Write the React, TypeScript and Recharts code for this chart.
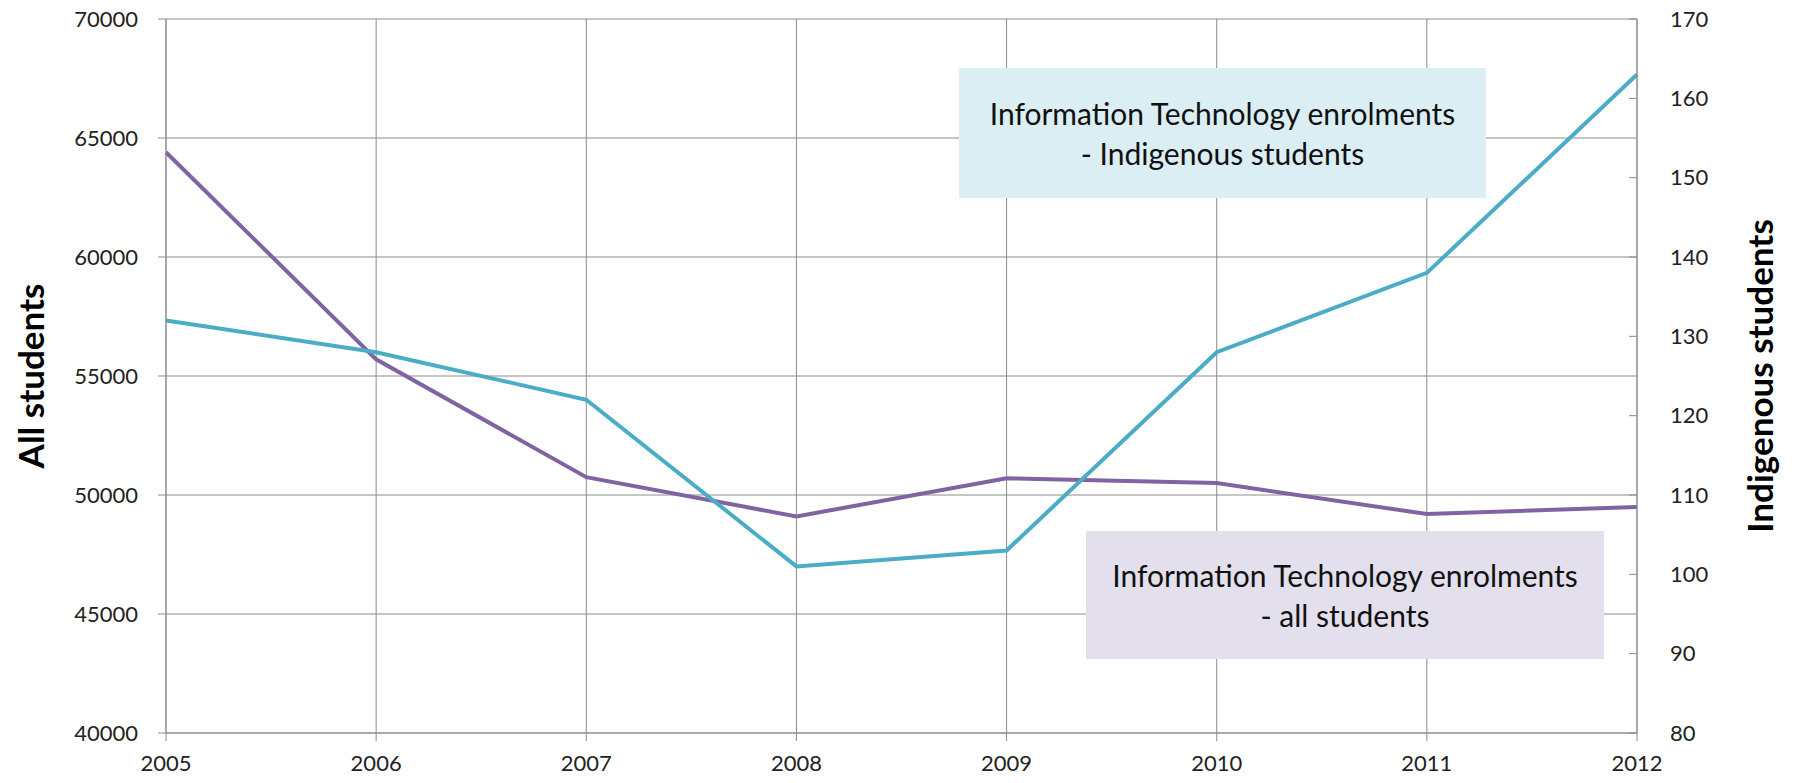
import React from 'react';
import {
  LineChart,
  Line,
  XAxis,
  YAxis,
  CartesianGrid,
} from 'recharts';

const years = ['2005', '2006', '2007', '2008', '2009', '2010', '2011', '2012'];
const allStudents = [64400, 55700, 50750, 49100, 50700, 50500, 49200, 49500];
const indigenousStudents = [132, 128, 122, 101, 103, 128, 138, 163];
const leftTicks = [40000, 45000, 50000, 55000, 60000, 65000, 70000];
const rightTicks = [80, 90, 100, 110, 120, 130, 140, 150, 160, 170];

const chartData = years.map((year, i) => ({
  year,
  all: allStudents[i],
  indigenous: indigenousStudents[i],
}));

const FONT = 'Lato, "Noto Sans", sans-serif';
const tickStyle = { fontSize: 22, fill: '#222', fontFamily: FONT };

const axisTitle = (text: string, x: number) => () => {
  const cy = 19 + (733 - 19) / 2;
  return (
    <text
      x={x}
      y={cy}
      transform={`rotate(-90, ${x}, ${cy})`}
      textAnchor="middle"
      fontFamily={FONT}
      fontWeight={700}
      fontSize={35}
      fill="#000"
    >
      {text}
    </text>
  );
};

const boxText: React.CSSProperties = {
  position: 'absolute',
  display: 'flex',
  alignItems: 'center',
  justifyContent: 'center',
  textAlign: 'center',
  fontFamily: FONT,
  fontSize: 30,
  lineHeight: '40px',
  color: '#111',
};

export default function App() {
  return (
    <div style={{ position: 'absolute', left: 0, top: 0, width: 1795, height: 783, background: '#fff' }}>
      <LineChart
        width={1795}
        height={783}
        data={chartData}
        margin={{ top: 19, right: 0, bottom: 0, left: 0 }}
      >
        <CartesianGrid yAxisId="left" stroke="#8c8c8c" strokeWidth={1} />
        <XAxis
          dataKey="year"
          height={50}
          tick={tickStyle}
          tickSize={8}
          tickMargin={14}
          stroke="#8c8c8c"
          interval={0}
        />
        <YAxis
          yAxisId="left"
          orientation="left"
          width={166}
          domain={[40000, 70000]}
          ticks={leftTicks}
          tick={tickStyle}
          tickSize={8}
          tickMargin={20}
          stroke="#8c8c8c"
          label={{ content: axisTitle('All students', 44) }}
        />
        <YAxis
          yAxisId="right"
          orientation="right"
          width={158}
          domain={[80, 170]}
          ticks={rightTicks}
          tick={{ ...tickStyle, textAnchor: 'start' }}
          tickSize={-8}
          tickMargin={41}
          stroke="#8c8c8c"
          label={{ content: axisTitle('Indigenous students', 1773) }}
        />
        <Line
          yAxisId="left"
          dataKey="all"
          stroke="#8064A2"
          strokeWidth={4}
          dot={false}
          isAnimationActive={false}
        />
        <Line
          yAxisId="right"
          dataKey="indigenous"
          stroke="#4BACC6"
          strokeWidth={4}
          dot={false}
          isAnimationActive={false}
        />
      </LineChart>
      <div style={{ ...boxText, left: 959, top: 68, width: 527, height: 130, background: '#DAEEF3' }}>
        <div>
          Information Technology enrolments
          <br />- Indigenous students
        </div>
      </div>
      <div style={{ ...boxText, left: 1086, top: 531, width: 518, height: 128, background: '#E4DFEC' }}>
        <div>
          Information Technology enrolments
          <br />- all students
        </div>
      </div>
    </div>
  );
}
